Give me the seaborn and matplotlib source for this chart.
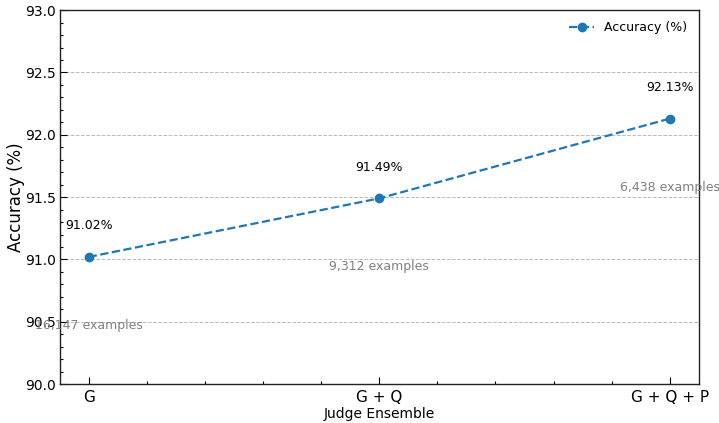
import numpy as np
import pandas as pd
import matplotlib
matplotlib.use("Agg")
import matplotlib.pyplot as plt
import seaborn as sns
from matplotlib.ticker import MultipleLocator

ensembles = ["G", "G + Q", "G + Q + P"]
accuracy = [91.02, 91.49, 92.13]
examples = [16147, 9312, 6438]

df = pd.DataFrame({"pos": range(len(ensembles)), "acc": accuracy})

sns.set_style("white")
plt.rcParams['font.family'] = ['DejaVu Sans']
plt.rcParams['text.color'] = 'black'
plt.rcParams['axes.labelcolor'] = 'black'

fig, ax = plt.subplots(figsize=(7.19, 4.23), dpi=100)
fig.subplots_adjust(left=0.083, right=0.972, top=0.976, bottom=0.092)

sns.lineplot(data=df, x="pos", y="acc", ax=ax, color="#1f77b4", linestyle="--",
             marker="o", markersize=7, markeredgewidth=0, linewidth=1.6,
             label="Accuracy (%)")

for i, (a, n) in enumerate(zip(accuracy, examples)):
    ax.text(i, a + 0.25, f"{a:.2f}%", ha="center", va="center", fontsize=9, color="black")
    ax.text(i, a - 0.55, f"{n:,} examples", ha="center", va="center", fontsize=9, color="gray")

ax.set_xlim(-0.1, 2.1)
ax.set_ylim(90.0, 93.0)
ax.set_xticks(range(len(ensembles)))
ax.set_xticklabels(ensembles, fontsize=11)
ax.xaxis.set_minor_locator(MultipleLocator(0.2))
ax.yaxis.set_major_locator(MultipleLocator(0.5))
ax.yaxis.set_minor_locator(MultipleLocator(0.1))
ax.tick_params(axis="both", which="both", direction="in", bottom=True, left=True,
               top=False, right=False, colors="black", width=0.8)
ax.tick_params(axis="both", which="major", length=5)
ax.tick_params(axis="both", which="minor", length=2.5)
ax.tick_params(axis="y", labelsize=10, pad=3)
ax.tick_params(axis="x", pad=4)
ax.yaxis.grid(True, linestyle="--", color="#bbbbbb", linewidth=0.7)
ax.set_axisbelow(True)

for sp in ax.spines.values():
    sp.set_color("#222222")
    sp.set_linewidth(1.0)

ax.set_xlabel("Judge Ensemble", fontsize=10, labelpad=2)
ax.set_ylabel("Accuracy (%)", fontsize=12, labelpad=0)
ax.legend(loc="upper right", frameon=False, fontsize=9)

fig.savefig("out.png", dpi=100)
